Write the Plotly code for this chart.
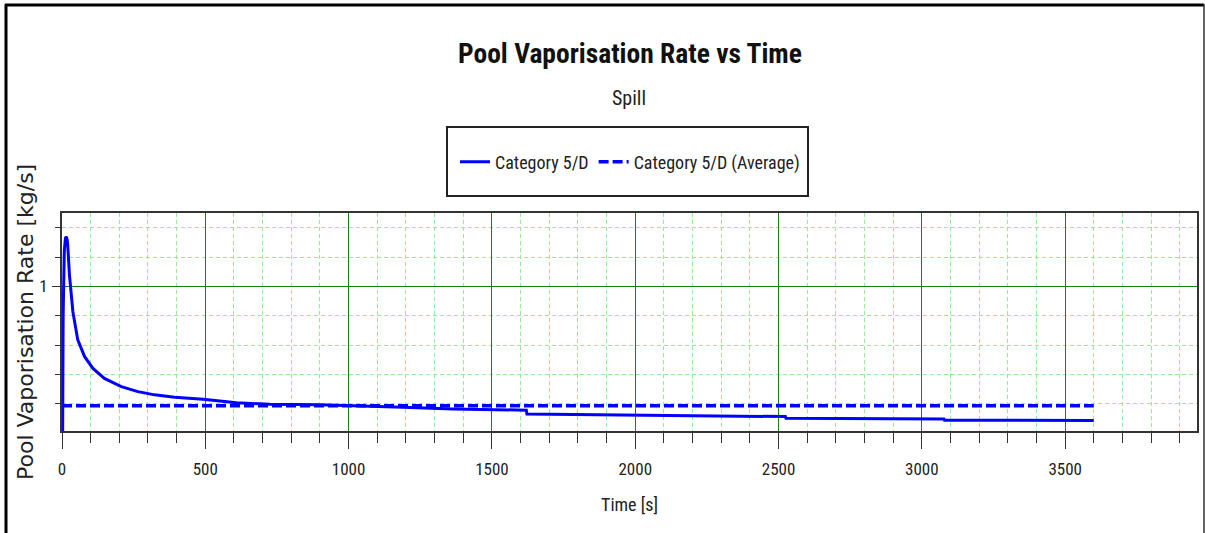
import plotly.graph_objects as go

# Pool vaporisation rate for the spill scenario (Category 5/D)
time_s = [0, 4, 8, 12, 15, 18, 20, 26, 38, 55, 79, 108, 148, 207, 265, 323, 393,
          492, 609, 725, 900, 1074, 1190, 1364, 1500, 1620, 1622, 2018, 2020,
          2524, 2526, 3077, 3079, 3600]
rate_kg_s = [0.0, 0.9, 1.12, 1.165, 1.169, 1.16, 1.141, 1.039, 0.914, 0.818, 0.761,
             0.721, 0.687, 0.659, 0.642, 0.631, 0.623, 0.616, 0.604, 0.599, 0.597,
             0.593, 0.589, 0.583, 0.580, 0.579, 0.566, 0.562, 0.560, 0.557, 0.551,
             0.549, 0.545, 0.544]

# Time-averaged rate over the release
avg_time_s = [0, 3600]
avg_rate_kg_s = [0.594, 0.594]

series_name = "Category 5/D"
avg_name = "Category 5/D (Average)"

NARROW = "Liberation Sans Narrow, Roboto Condensed, Roboto, Arial, sans-serif"
WIDE = "DejaVu Sans, Verdana, sans-serif"
BLUE = "#0000FF"
MINOR_GRID = "#94EC94"
MAJOR_GRID = "#128012"
AXIS = "#333333"

fig = go.Figure()
fig.add_trace(go.Scatter(x=time_s, y=rate_kg_s, mode="lines", name=series_name,
                         line=dict(color=BLUE, width=3)))
fig.add_trace(go.Scatter(x=avg_time_s, y=avg_rate_kg_s, mode="lines", name=avg_name,
                         line=dict(color=BLUE, width=3.5, dash="10px,4px")))

L, R, T, B = 62, 8, 213, 102
W, H = 1205, 533
pw, ph = W - L - R, H - T - B


def px(xp):
    return (xp - L) / pw


def py(yp):
    return (H - B - yp) / ph


fig.update_layout(
    width=W, height=H,
    margin=dict(l=L, r=R, t=T, b=B, autoexpand=False),
    paper_bgcolor="white", plot_bgcolor="white",
    font=dict(family=NARROW, color="#222222"),
    title=dict(text="<b>Pool Vaporisation Rate vs Time</b>",
               xref="paper", x=px(630), xanchor="center", y=1 - 53 / H, yanchor="middle",
               font=dict(size=27.5, color="#111111")),
    annotations=[
        dict(text="Spill", xref="paper", yref="paper", x=px(629), y=py(98),
             xanchor="center", yanchor="middle", showarrow=False,
             font=dict(size=20, color="#222222")),
        # vertical axis title
        dict(text="Pool Vaporisation Rate [kg/s]", xref="paper", yref="paper",
             x=px(25), y=py(322), xanchor="center", yanchor="middle", textangle=-90,
             showarrow=False, font=dict(size=22, family=WIDE, color="#222222")),
    ],
    showlegend=True,
    legend=dict(orientation="h", x=px(630), xanchor="center", y=py(162), yanchor="middle",
                font=dict(size=18, color="#222222"), bgcolor="rgba(0,0,0,0)",
                borderwidth=0),
    xaxis=dict(
        range=[0, 3960], dtick=500, tick0=0,
        showline=True, linecolor=AXIS, linewidth=2, mirror=True,
        ticks="outside", ticklen=16, tickwidth=1, tickcolor=AXIS,
        tickfont=dict(size=17), ticklabelstandoff=6,
        showgrid=True, gridcolor=MAJOR_GRID, gridwidth=1,
        zeroline=False,
        minor=dict(dtick=100, ticks="outside", ticklen=10, tickcolor=AXIS,
                   showgrid=True, gridcolor=MINOR_GRID, griddash="4px,3px", gridwidth=1),
        title=dict(text="Time [s]", font=dict(size=18), standoff=20),
    ),
    yaxis=dict(
        range=[0.508, 1.25], dtick=0.5, tick0=0,
        showline=True, linecolor=AXIS, linewidth=2, mirror=True,
        ticks="outside", ticklen=8, tickwidth=1, tickcolor=AXIS,
        tickfont=dict(size=17), ticklabelstandoff=1,
        showgrid=True, gridcolor=MAJOR_GRID, gridwidth=1,
        zeroline=False,
        minor=dict(dtick=0.1, ticks="outside", ticklen=5, tickcolor=AXIS,
                   showgrid=True, gridcolor=MINOR_GRID, griddash="4px,3px", gridwidth=1),
    ),
    shapes=[
        # legend frame
        dict(type="rect", xref="paper", yref="paper", x0=px(447), x1=px(808), y0=py(196), y1=py(127),
             line=dict(color="#222222", width=2), fillcolor="rgba(0,0,0,0)", layer="above"),
        # outer frame
        dict(type="line", xref="paper", yref="paper", x0=px(6), x1=px(6), y0=py(4), y1=py(540),
             line=dict(color="black", width=3)),
        dict(type="line", xref="paper", yref="paper", x0=px(5), x1=px(1204), y0=py(5), y1=py(5),
             line=dict(color="black", width=3)),
        dict(type="line", xref="paper", yref="paper", x0=px(1204), x1=px(1204), y0=py(4), y1=py(540),
             line=dict(color="#333333", width=1.5)),
    ],
)

fig.write_html("out.html")
